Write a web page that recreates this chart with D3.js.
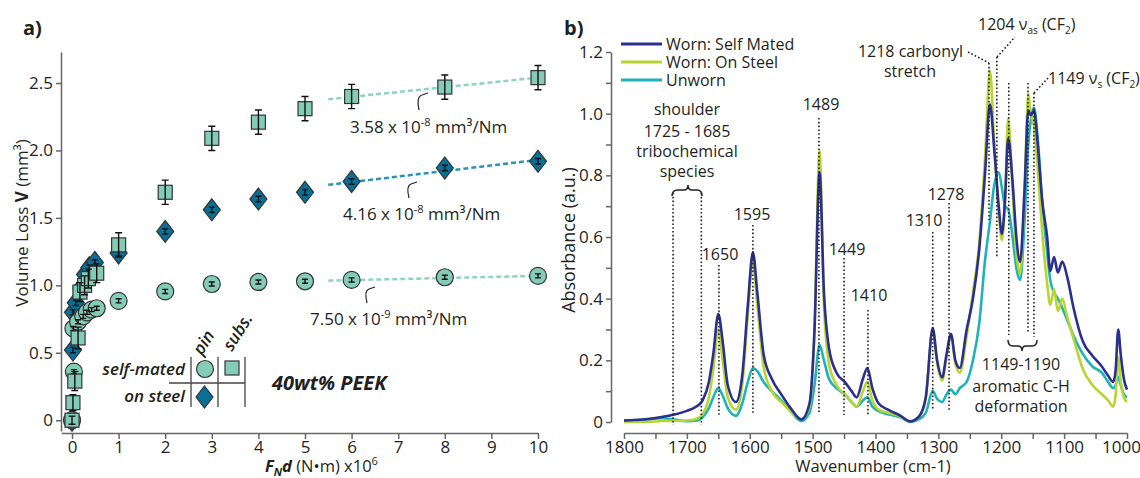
<!DOCTYPE html>
<html><head><meta charset="utf-8">
<script src="https://cdn.jsdelivr.net/npm/d3@7"></script>
<style>
body{margin:0;background:#fff}
text{font-family:"Open Sans",sans-serif;fill:#231f20}
</style></head><body>
<script>
var W = 1140, H = 478;

// ---- panel a: wear volume vs FN*d (x10^6 N m)
var pinSelfX   = [0, 0.04, 0.03, 0.13, 0.24, 0.32, 0.42, 0.53, 1, 2, 3, 4, 5, 6, 8, 10];
var pinSelfV   = [0, 0.36, 0.68, 0.73, 0.77, 0.80, 0.82, 0.83, 0.885, 0.955, 1.01, 1.025, 1.03, 1.04, 1.06, 1.07];
var pinSelfErr = [0.015, 0.015, 0.015, 0.015, 0.015, 0.015, 0.015, 0.015, 0.015, 0.015, 0.015, 0.015, 0.015, 0.015, 0.015, 0.015];

var subsSelfX   = [0, 0.02, 0.06, 0.13, 0.17, 0.27, 0.35, 0.53, 1, 2, 3, 4, 5, 6, 8, 10];
var subsSelfV   = [0, 0.13, 0.29, 0.61, 0.95, 1.0, 1.05, 1.09, 1.30, 1.69, 2.09, 2.21, 2.31, 2.40, 2.47, 2.54];
var subsSelfErr = [0.03, 0.06, 0.07, 0.08, 0.07, 0.07, 0.07, 0.07, 0.09, 0.09, 0.09, 0.09, 0.09, 0.09, 0.09, 0.09];

var steelPinX   = [0, 0.02, 0.02, 0.08, 0.2, 0.28, 0.37, 0.49, 1, 2, 3, 4, 5, 6, 8, 10];
var steelPinV   = [0, 0.52, 0.80, 0.87, 0.98, 1.08, 1.13, 1.17, 1.24, 1.40, 1.56, 1.64, 1.69, 1.77, 1.87, 1.92];
var steelPinErr = [0.02, 0.02, 0.02, 0.02, 0.02, 0.02, 0.02, 0.02, 0.02, 0.02, 0.02, 0.02, 0.02, 0.02, 0.02, 0.02];

// linear fits over the steady state part
var fitX     = [5.5, 10];
var fitSubs  = [2.38, 2.54];
var fitSteel = [1.745, 1.93];
var fitPin   = [1.035, 1.07];

var xTicksA = [0, 1, 2, 3, 4, 5, 6, 7, 8, 9, 10];
var yTicksA = [0, 0.5, 1.0, 1.5, 2.0, 2.5];

// ---- panel b: FTIR spectra
var wavenumber = [1800,1770,1740,1720,1700,1685,1675,1665,1658,1650,1643,1635,1622,1612,1603,1595,1588,1578,1565,1550,
  1535,1518,1505,1497,1489,1482,1474,1462,1449,1438,1430,1420,1413,1405,1395,1380,1360,1345,1330,1320,
  1309,1302,1294,1287,1280,1273,1266,1255,1245,1235,1226,1218,1211,1204,1199,1194,1189,1182,1176,1170,
  1163,1157,1153,1148,1142,1135,1127,1122,1116,1110,1103,1095,1085,1070,1055,1040,1030,1022,1018,1014,
  1010,1005,1000];
var absSelfMated = [0.005,0.008,0.016,0.024,0.036,0.05,0.07,0.13,0.22,0.35,0.26,0.12,0.065,0.15,0.38,0.55,0.42,0.22,0.14,0.09,
  0.045,0.008,0.06,0.3,0.81,0.42,0.24,0.16,0.13,0.10,0.08,0.14,0.175,0.11,0.06,0.04,0.02,0.002,0.02,0.08,
  0.305,0.2,0.145,0.22,0.285,0.2,0.175,0.3,0.4,0.56,0.8,1.03,0.88,0.7,0.61,0.72,0.92,0.78,0.6,0.52,
  0.75,1.01,0.995,1.01,0.9,0.72,0.6,0.49,0.535,0.485,0.52,0.47,0.37,0.26,0.215,0.18,0.15,0.13,0.17,0.3,
  0.22,0.14,0.105];
var absOnSteel = [0.0,0.0,0.003,0.004,0.005,0.01,0.025,0.08,0.17,0.3,0.2,0.08,0.04,0.12,0.35,0.52,0.38,0.18,0.1,0.065,
  0.035,0.01,0.05,0.3,0.88,0.38,0.19,0.12,0.09,0.065,0.05,0.1,0.13,0.07,0.04,0.03,0.018,0.002,0.02,0.08,
  0.295,0.19,0.135,0.21,0.28,0.19,0.16,0.28,0.42,0.58,0.85,1.14,0.9,0.68,0.59,0.72,0.985,0.75,0.55,0.48,
  0.75,1.065,1.0,0.96,0.82,0.62,0.45,0.38,0.43,0.36,0.4,0.34,0.27,0.17,0.12,0.09,0.07,0.05,0.09,0.21,
  0.13,0.08,0.065];
var absUnworn = [0.005,0.007,0.012,0.008,0.003,0.004,0.015,0.045,0.08,0.11,0.085,0.045,0.02,0.06,0.13,0.175,0.165,0.13,0.1,0.07,
  0.035,0.003,0.03,0.12,0.25,0.2,0.14,0.11,0.09,0.065,0.05,0.07,0.08,0.05,0.035,0.025,0.015,0.0,0.01,0.03,
  0.1,0.075,0.065,0.09,0.105,0.09,0.11,0.13,0.2,0.32,0.52,0.65,0.77,0.81,0.76,0.7,0.69,0.6,0.5,0.46,
  0.65,0.9,0.98,1.02,0.92,0.72,0.55,0.46,0.42,0.4,0.37,0.33,0.28,0.22,0.18,0.16,0.13,0.11,0.12,0.146,
  0.12,0.09,0.08];
var seriesNames = ["Worn: Self Mated", "Worn: On Steel", "Unworn"];
var seriesColors = ["#2b2f8f", "#b8d432", "#1db3b8"];

var mint = "#84ccb6", steelBlue = "#0a6f96", edge = "#333";

var svg = d3.select("body").append("svg").attr("width", W).attr("height", H);
svg.append("rect").attr("width", W).attr("height", H).attr("fill", "#fff");

// ================= panel a =================
var xa = d3.scaleLinear().domain([-0.23, 10]).range([61.3, 538]);
var ya = d3.scaleLinear().domain([-0.08, 2.73]).range([431, 52]);
var ga = svg.append("g");

ga.append("text").attr("x", 23).attr("y", 35).attr("font-size", 20).attr("font-weight", 700).text("a)");

var axA = ga.append("g").attr("transform", "translate(61,0)")
  .call(d3.axisLeft(ya).tickValues(yTicksA).tickSize(5).tickSizeOuter(0)
    .tickFormat(function(d) { return d === 0 ? "0" : d.toFixed(1); }));
var axB = ga.append("g").attr("transform", "translate(0,433)")
  .call(d3.axisBottom(xa).tickValues(xTicksA).tickSize(6).tickSizeOuter(0));
[axA, axB].forEach(function(a) {
  a.selectAll("path,line").attr("stroke", "#666").attr("stroke-width", 1.5);
  a.selectAll("text").attr("font-size", 17).attr("fill", "#231f20").style("font-family", "Open Sans");
});
axB.selectAll("text").attr("y", 8);

// axis titles
var yl = ga.append("text").attr("transform", "translate(28,223) rotate(-90)")
  .attr("text-anchor", "middle").attr("font-size", 17);
yl.append("tspan").text("Volume Loss ");
yl.append("tspan").attr("font-weight", 700).text("V");
yl.append("tspan").text(" (mm³)");

var xl = ga.append("text").attr("x", 265).attr("y", 472).attr("font-size", 16.5);
xl.append("tspan").attr("font-weight", 700).attr("font-style", "italic").text("F");
xl.append("tspan").attr("font-weight", 700).attr("font-style", "italic").attr("font-size", 11).attr("dy", 4).text("N");
xl.append("tspan").attr("font-weight", 700).attr("font-style", "italic").attr("dy", -4).text("d");
xl.append("tspan").text(" (N•m)  x10");
xl.append("tspan").attr("font-size", 11).attr("dy", -7).text("6");

// fit lines
var fitLine = d3.line().x(function(d) { return xa(d[0]); }).y(function(d) { return ya(d[1]); });
[[fitSubs, "#8fd3c1"], [fitSteel, "#2b93b8"], [fitPin, "#8fd3c1"]].forEach(function(f) {
  ga.append("path").attr("d", fitLine(d3.zip(fitX, f[0])))
    .attr("fill", "none").attr("stroke", f[1]).attr("stroke-width", 2.5).attr("stroke-dasharray", "5,3");
});

function errBars(g, xs, vs, es, cap) {
  xs.forEach(function(x, i) {
    var cx = xa(x), t = ya(vs[i] + es[i]), b = ya(vs[i] - es[i]);
    g.append("path").attr("d", "M" + cx + "," + t + "V" + b + "M" + (cx - cap) + "," + t + "h" + (2 * cap) +
      "M" + (cx - cap) + "," + b + "h" + (2 * cap))
      .attr("stroke", "#111").attr("stroke-width", 1.4).attr("fill", "none");
  });
}

// diamonds (on steel, pin)
var gd = ga.append("g");
steelPinX.forEach(function(x, i) {
  var cx = xa(x), cy = ya(steelPinV[i]);
  gd.append("path").attr("d", "M" + cx + "," + (cy - 11) + "L" + (cx + 8.5) + "," + cy + "L" + cx + "," + (cy + 11) + "L" + (cx - 8.5) + "," + cy + "Z")
    .attr("fill", steelBlue).attr("stroke", edge).attr("stroke-width", 1.2);
});
errBars(gd, steelPinX, steelPinV, steelPinErr, 3);

// circles (self-mated pin)
var gc = ga.append("g");
pinSelfX.forEach(function(x, i) {
  gc.append("circle").attr("cx", xa(x)).attr("cy", ya(pinSelfV[i])).attr("r", 8.5)
    .attr("fill", mint).attr("stroke", edge).attr("stroke-width", 1.2);
});
errBars(gc, pinSelfX, pinSelfV, pinSelfErr, 3);

// squares (self-mated substrate)
var gs = ga.append("g");
subsSelfX.forEach(function(x, i) {
  gs.append("rect").attr("x", xa(x) - 7).attr("y", ya(subsSelfV[i]) - 7).attr("width", 14).attr("height", 14)
    .attr("fill", mint).attr("stroke", edge).attr("stroke-width", 1.2);
});
errBars(gs, subsSelfX, subsSelfV, subsSelfErr, 3.5);

// rate annotations
function rateLabel(x, y, num, exp) {
  var t = ga.append("text").attr("x", x).attr("y", y).attr("font-size", 17);
  t.append("tspan").text(num + " x 10");
  t.append("tspan").attr("font-size", 11).attr("dy", -7).text(exp);
  t.append("tspan").attr("dy", 7).text(" mm³/Nm");
}
rateLabel(350, 133, "3.58", "-8");
rateLabel(343, 220, "4.16", "-8");
rateLabel(310, 325, "7.50", "-9");
["M419,110 C417,102 418,96 422,95 L428,93", "M409,198 C407,190 408,185 411,184 L417,182",
 "M367,303 C365,295 366,290 369,289 L375,287"].forEach(function(d) {
  ga.append("path").attr("d", d).attr("fill", "none").attr("stroke", "#222").attr("stroke-width", 1.2);
});

// legend table
var lt = ga.append("g");
lt.append("path").attr("d", "M191,357V407M218,357V407M245,357V407M169,383H245")
  .attr("stroke", "#444").attr("stroke-width", 1.3).attr("fill", "none");
lt.append("text").attr("x", 185).attr("y", 375).attr("text-anchor", "end").attr("font-size", 17)
  .attr("font-style", "italic").attr("font-weight", 600).text("self-mated");
lt.append("text").attr("x", 185).attr("y", 402).attr("text-anchor", "end").attr("font-size", 17)
  .attr("font-style", "italic").attr("font-weight", 600).text("on steel");
lt.append("text").attr("transform", "translate(202,356) rotate(-58)").attr("font-size", 17)
  .attr("font-style", "italic").attr("font-weight", 600).text("pin");
lt.append("text").attr("transform", "translate(232,352) rotate(-58)").attr("font-size", 17)
  .attr("font-style", "italic").attr("font-weight", 600).text("subs.");
lt.append("circle").attr("cx", 205).attr("cy", 369).attr("r", 8.5).attr("fill", mint).attr("stroke", edge).attr("stroke-width", 1.2);
lt.append("rect").attr("x", 225).attr("y", 361).attr("width", 14).attr("height", 14).attr("fill", mint).attr("stroke", edge).attr("stroke-width", 1.2);
lt.append("path").attr("d", "M204.5,386L213,397L204.5,408L196,397Z").attr("fill", steelBlue).attr("stroke", edge).attr("stroke-width", 1.2);
ga.append("text").attr("x", 272).attr("y", 390).attr("font-size", 20).attr("font-style", "italic")
  .attr("font-weight", 700).text("40wt% PEEK");

// ================= panel b =================
var xb = d3.scaleLinear().domain([1800, 1000]).range([624, 1127]);
var yb = d3.scaleLinear().domain([0, 1.2]).range([422, 52]);
var gb = svg.append("g");

gb.append("text").attr("x", 564).attr("y", 35).attr("font-size", 20).attr("font-weight", 700).text("b)");

var byAx = gb.append("g").attr("transform", "translate(611,0)")
  .call(d3.axisLeft(yb).tickValues(d3.range(0, 13).map(function(i) { return i / 10; }))
    .tickSize(5).tickSizeOuter(0)
    .tickFormat(function(d) { var k = Math.round(d * 10); return k % 2 ? "" : (k === 0 ? "0" : d.toFixed(1)); }));
var bxAx = gb.append("g").attr("transform", "translate(0,433)")
  .call(d3.axisBottom(xb).tickValues(d3.range(1800, 999, -50)).tickSize(6).tickSizeOuter(0)
    .tickFormat(function(d) { return d % 100 ? "" : d; }));
[byAx, bxAx].forEach(function(a) {
  a.selectAll("path,line").attr("stroke", "#666").attr("stroke-width", 1.5);
  a.selectAll("text").attr("font-size", 17).attr("fill", "#231f20").style("font-family", "Open Sans");
});
bxAx.selectAll("text").attr("y", 8);
// last label is pulled in so it stays inside the picture
bxAx.selectAll("text").filter(function(d) { return d === 1000; }).attr("dx", -6);

gb.append("text").attr("transform", "translate(575,240) rotate(-90)").attr("text-anchor", "middle")
  .attr("font-size", 18).text("Absorbance (a.u.)");
gb.append("text").attr("x", 873).attr("y", 472).attr("text-anchor", "middle")
  .attr("font-size", 16.5).text("Wavenumber (cm-1)");

// spectra
var spec = d3.line().curve(d3.curveMonotoneX)
  .x(function(d) { return xb(d[0]); }).y(function(d) { return yb(d[1]); });
[[absUnworn, 2], [absOnSteel, 1], [absSelfMated, 0]].forEach(function(s) {
  gb.append("path").attr("d", spec(d3.zip(wavenumber, s[0])))
    .attr("fill", "none").attr("stroke", seriesColors[s[1]]).attr("stroke-width", 2.6)
    .attr("stroke-linejoin", "round");
});

// legend
seriesNames.forEach(function(n, i) {
  var y = 44 + i * 18;
  gb.append("line").attr("x1", 621).attr("x2", 662).attr("y1", y).attr("y2", y)
    .attr("stroke", seriesColors[i]).attr("stroke-width", 3);
  gb.append("text").attr("x", 666).attr("y", y + 6).attr("font-size", 16).text(n);
});

// peak markers (dotted)
var markers = [[1722, 193, 425], [1677, 193, 425], [1649, 265, 415], [1595, 225, 413], [1490, 118, 412],
  [1450, 258, 415], [1412, 310, 415], [1309, 232, 410], [1283, 203, 410], [1219.5, 63, 220],
  [1207, 57, 257], [1188, 83, 335], [1157.5, 83, 333], [1148, 93, 337]];
var dots = gb.append("g").attr("stroke", "#222").attr("stroke-width", 1.6)
  .attr("stroke-dasharray", "1.6,2.2").attr("fill", "none");
markers.forEach(function(m) {
  dots.append("line").attr("x1", xb(m[0])).attr("x2", xb(m[0])).attr("y1", m[1]).attr("y2", m[2]);
});
dots.append("path").attr("d", "M968,52L989,63M997,57L1015,37M1034,93L1048,78");

// braces
gb.append("path").attr("d", "M672,196 Q672,190 678,190 L684,190 Q688,190 688,185 Q688,190 692,190 L697,190 Q702,190 702,196")
  .attr("fill", "none").attr("stroke", "#222").attr("stroke-width", 1.5);
gb.append("path").attr("d", "M1008,340 Q1008,346 1013,346 L1018,346 Q1022,346 1022,351 Q1022,346 1026,346 L1032,346 Q1037,346 1037,340")
  .attr("fill", "none").attr("stroke", "#222").attr("stroke-width", 1.5);

// labels
function lab(x, y, s, anchor) {
  return gb.append("text").attr("x", x).attr("y", y).attr("font-size", 16)
    .attr("text-anchor", anchor || "middle").text(s);
}
lab(687, 115, "shoulder"); lab(687, 137, "1725 - 1685"); lab(687, 157, "tribochemical"); lab(687, 177, "species");
lab(720, 260, "1650"); lab(752, 220, "1595"); lab(821, 110, "1489"); lab(847, 255, "1449");
lab(869, 301, "1410"); lab(924, 226, "1310"); lab(946, 200, "1278");
lab(1021, 370, "1149-1190"); lab(1021, 392, "aromatic C-H"); lab(1021, 412, "deformation");
lab(963, 57, "1218 carbonyl", "end"); lab(910, 77, "stretch");
var t1 = lab(978, 30, "1204 ", "start");
t1.append("tspan").text("ν"); t1.append("tspan").attr("font-size", 10).attr("dy", 4).text("as");
t1.append("tspan").attr("dy", -4).text(" (CF"); t1.append("tspan").attr("font-size", 10).attr("dy", 4).text("2");
t1.append("tspan").attr("dy", -4).text(")");
var t2 = lab(1048, 84, "1149 ", "start");
t2.append("tspan").text("ν"); t2.append("tspan").attr("font-size", 10).attr("dy", 4).text("s");
t2.append("tspan").attr("dy", -4).text(" (CF"); t2.append("tspan").attr("font-size", 10).attr("dy", 4).text("2");
t2.append("tspan").attr("dy", -4).text(")");
</script></body></html>
